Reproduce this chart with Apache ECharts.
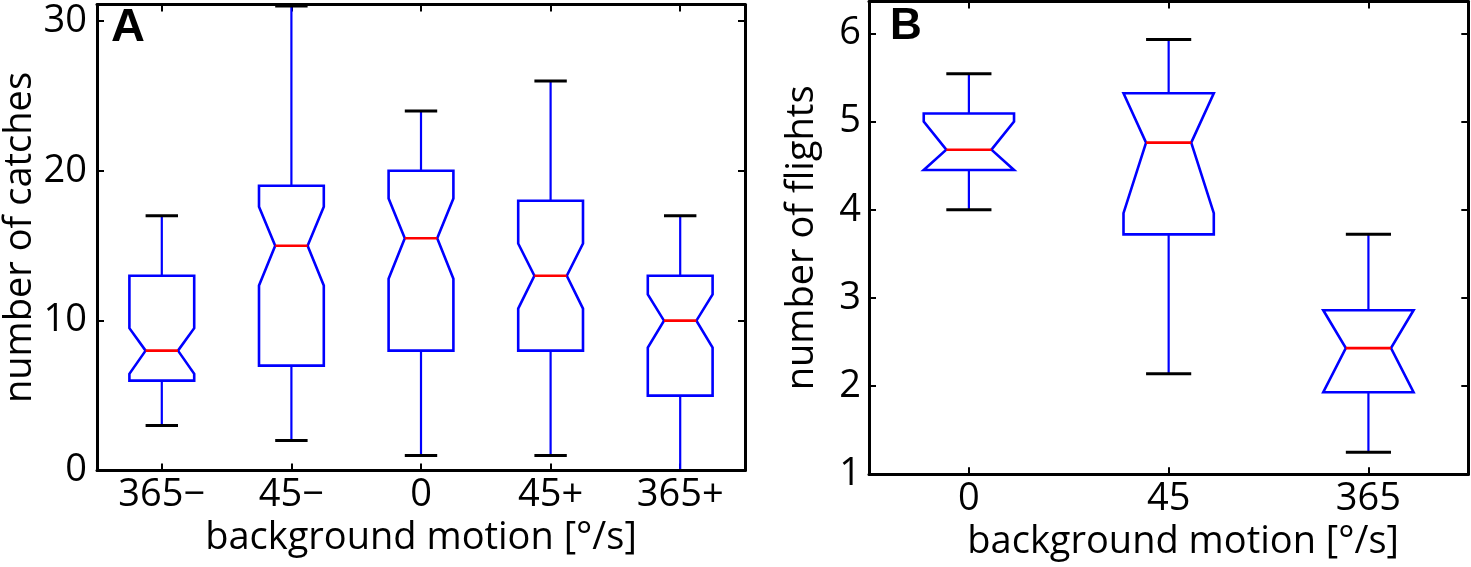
<!DOCTYPE html>
<html>
<head>
<meta charset="utf-8">
<script src="https://cdn.jsdelivr.net/npm/echarts@6/dist/echarts.min.js"></script>
<style>
  html, body { margin: 0; padding: 0; background: #fff; }
  #chart { width: 1471px; height: 567px; }
</style>
</head>
<body>
<div id="chart"></div>
<script>
// panel A: number of catches
const catsA = ['365\u2212', '45\u2212', '0', '45+', '365+']
const lowA = [3, 2, 1, 1, 0]
const q1A = [6, 7, 8, 8, 5]
const notchLoA = [6.45, 12.35, 12.8, 10.8, 8.2]
const medA = [8, 15, 15.5, 13, 10]
const notchHiA = [9.5, 17.6, 18.15, 15.15, 11.75]
const q3A = [13, 19, 20, 18, 13]
const highA = [17, 31, 24, 26, 17]
const ticksA = [0, 10, 20, 30]

// panel B: number of flights
const catsB = ['0', '45', '365']
const lowB = [4.0, 2.14, 1.25]
const q1B = [4.45, 3.72, 1.93]
const notchLoB = [4.45, 3.96, 1.93]
const medB = [4.68, 4.76, 2.43]
const notchHiB = [5.0, 5.32, 2.86]
const q3B = [5.09, 5.32, 2.86]
const highB = [5.54, 5.93, 3.72]
const ticksB = [1, 2, 3, 4, 5, 6]

const FONT = '"Open Sans", "Noto Sans", sans-serif'
const BLUE = '#0000ff'
const RED = '#ff0000'

const rows = (lo, q1, nlo, med, nhi, q3, hi) =>
  lo.map((v, i) => [i, v, q1[i], nlo[i], med[i], nhi[i], q3[i], hi[i]])

// notched box, MATLAB style
const makeRender = (boxFrac) => (params, api) => {
  const i = api.value(0)
  const band = api.size([1, 0])[0]
  const hw = band * boxFrac / 2
  const nw = hw / 2
  const cw = hw / 2
  const y = (k) => api.coord([i, api.value(k)])[1]
  const cx = api.coord([i, api.value(1)])[0]
  const yLo = y(1), yQ1 = y(2), yNLo = y(3), yMed = y(4), yNHi = y(5), yQ3 = y(6), yHi = y(7)
  const line = (x1, y1, x2, y2, color, w) => ({
    type: 'line',
    shape: { x1, y1, x2, y2 },
    style: { stroke: color, lineWidth: w }
  })
  return {
    type: 'group',
    children: [
      line(cx, yQ3, cx, yHi, BLUE, 2.2),
      line(cx, yQ1, cx, yLo, BLUE, 2.2),
      line(cx - cw, yHi, cx + cw, yHi, '#000', 3),
      line(cx - cw, yLo, cx + cw, yLo, '#000', 3),
      {
        type: 'polygon',
        shape: {
          points: [
            [cx - hw, yQ3], [cx - hw, yNHi], [cx - nw, yMed], [cx - hw, yNLo], [cx - hw, yQ1],
            [cx + hw, yQ1], [cx + hw, yNLo], [cx + nw, yMed], [cx + hw, yNHi], [cx + hw, yQ3]
          ]
        },
        style: { fill: 'none', stroke: BLUE, lineWidth: 2.6, lineJoin: 'miter' }
      },
      line(cx - nw, yMed, cx + nw, yMed, RED, 2.6)
    ]
  }
}

const labelStyle = { fontFamily: FONT, fontSize: 38, color: '#000' }
const axisLine = { show: true, onZero: false, lineStyle: { color: '#000', width: 3 } }
const tick = { show: true, inside: true, length: 7, lineStyle: { color: '#000', width: 2 } }

const xMain = (gi, cats, nameOpts) => ({
  type: 'category', gridIndex: gi, data: cats, position: 'bottom',
  axisLine, axisTick: { ...tick, alignWithLabel: true },
  axisLabel: { ...labelStyle, margin: 6 },
  name: 'background motion [\u00b0/s]', nameLocation: 'middle', nameGap: 44,
  nameTextStyle: { ...labelStyle, ...nameOpts },
  splitLine: { show: false }
})
const xTop = (gi, cats) => ({
  type: 'category', gridIndex: gi, data: cats, position: 'top',
  axisLine, axisTick: { ...tick, alignWithLabel: true },
  axisLabel: { show: false }, splitLine: { show: false }
})
const yMain = (gi, min, max, ticks, name, gap, margin) => ({
  type: 'value', gridIndex: gi, min, max, position: 'left',
  axisLine, axisTick: { ...tick, customValues: ticks },
  axisLabel: { ...labelStyle, margin, customValues: ticks },
  name, nameLocation: 'middle', nameGap: gap, nameTextStyle: labelStyle,
  splitLine: { show: false }
})
const yRight = (gi, min, max, ticks) => ({
  type: 'value', gridIndex: gi, min, max, position: 'right',
  axisLine, axisTick: { ...tick, customValues: ticks },
  axisLabel: { show: false }, splitLine: { show: false }
})

const chart = echarts.init(document.getElementById('chart'), null, { renderer: 'canvas' })

chart.setOption({
  backgroundColor: '#fff',
  animation: false,
  grid: [
    { left: 96, right: 726, top: 4.5, bottom: 96.5 },
    { left: 869, right: 2.7, top: 1.5, bottom: 92.7 }
  ],
  xAxis: [
    xMain(0, catsA, {}),
    xTop(0, catsA),
    xMain(1, catsB, { padding: [0, 0, 0, 29] }),
    xTop(1, catsB)
  ],
  yAxis: [
    yMain(0, 0, 31.1, ticksA, 'number of catches', 58, 10),
    yRight(0, 0, 31.1, ticksA),
    yMain(1, 1, 6.36, ticksB, 'number of flights', 48, 8),
    yRight(1, 1, 6.36, ticksB)
  ],
  graphic: [
    { type: 'text', left: 111, top: 5, style: { text: 'A', font: 'bold 47px "Liberation Sans", Arial, sans-serif', fill: '#000' } },
    { type: 'text', left: 890, top: 5, style: { text: 'B', font: 'bold 44px "Liberation Sans", Arial, sans-serif', fill: '#000' } }
  ],
  series: [
    {
      type: 'custom', xAxisIndex: 0, yAxisIndex: 0, clip: false,
      renderItem: makeRender(0.5),
      encode: { x: 0, y: [1, 2, 3, 4, 5, 6, 7] },
      data: rows(lowA, q1A, notchLoA, medA, notchHiA, q3A, highA)
    },
    {
      type: 'custom', xAxisIndex: 2, yAxisIndex: 2, clip: false,
      renderItem: makeRender(0.452),
      encode: { x: 0, y: [1, 2, 3, 4, 5, 6, 7] },
      data: rows(lowB, q1B, notchLoB, medB, notchHiB, q3B, highB)
    }
  ]
})
</script>
</body>
</html>
